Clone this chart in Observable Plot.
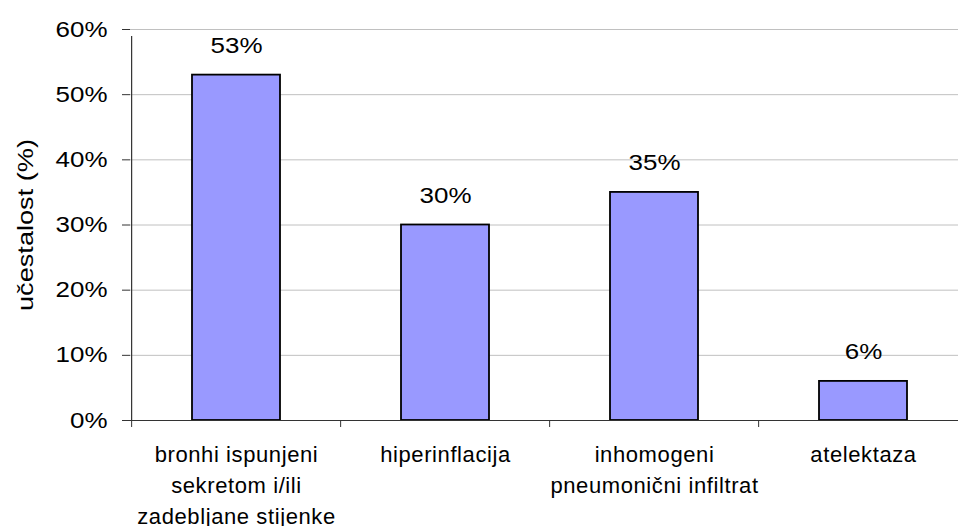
<!DOCTYPE html>
<html>
<head>
<meta charset="utf-8">
<script src="https://cdn.jsdelivr.net/npm/d3@7"></script>
<script src="https://cdn.jsdelivr.net/npm/@observablehq/plot@0.6"></script>
<style>
  html, body { margin: 0; padding: 0; background: #fff; overflow: hidden; width: 958px; height: 526px; }
  #chart { width: 970px; }
  #chart svg { display: block; max-width: none !important; }
  #chart g[aria-label="x-axis tick label"] text { letter-spacing: 0.6px; }
</style>
</head>
<body>
<div id="chart"></div>
<script>
const categories = [
  "bronhi ispunjeni sekretom i/ili zadebljane stijenke",
  "hiperinflacija",
  "inhomogeni pneumonični infiltrat",
  "atelektaza"
];
const tickLabels = [
  "bronhi ispunjeni\nsekretom i/ili\nzadebljane stijenke",
  "hiperinflacija",
  "inhomogeni\npneumonični infiltrat",
  "atelektaza"
];
const values = [53, 30, 35, 6];
const yTicks = [0, 10, 20, 30, 40, 50, 60];
const yLabel = "učestalost (%)";

const data = categories.map((c, i) => ({category: c, value: values[i], label: tickLabels[i]}));
const labelOf = new Map(data.map(d => [d.category, d.label]));

const W = 970, H = 526, mL = 130, mR = 1, mT = 29, mB = 106;
const step = (W - mL - mR) / categories.length;
const pad = 0.58;

const chart = Plot.plot({
  width: W,
  height: H,
  marginLeft: mL,
  marginRight: mR,
  marginTop: mT,
  marginBottom: mB,
  style: {fontFamily: "'Liberation Sans', Arial, sans-serif", color: "#000", background: "#fff"},
  x: {domain: categories, paddingInner: pad, paddingOuter: pad / 2, label: null},
  y: {domain: [0, 60], label: null},
  marks: [
    Plot.gridY(yTicks, {stroke: "#c0c0c0", strokeOpacity: 1, strokeWidth: 1}),
    Plot.barY(data, {x: "category", y: "value", fill: "#9999ff", stroke: "#000", strokeWidth: 1.8}),
    Plot.ruleY([0], {stroke: "#333", strokeWidth: 1.2}),
    Plot.ruleX(categories.slice(0, 1), {dx: -step / 2, y1: 0, y2: 60, stroke: "#333", strokeWidth: 1.2, insetBottom: -7}),
    Plot.axisY({ticks: yTicks, tickSize: 8, tickPadding: 15, tickFormat: d => d + "%", fontSize: 22, stroke: "#333"}),
    Plot.axisX({tickSize: 7, text: null, dx: -step / 2, stroke: "#333"}),
    Plot.axisX({tickSize: 0, tickPadding: 20, tickFormat: d => labelOf.get(d), fontSize: 22, lineHeight: 1.4}),
    Plot.text(data, {x: "category", y: "value", text: d => d.value + "%", dy: -22, lineAnchor: "bottom", fontSize: 22, fill: "#000"}),
    Plot.text([yLabel], {frameAnchor: "left", dx: -105, rotate: -90, text: d => d, fontSize: 22, textAnchor: "middle"})
  ]
});
document.getElementById("chart").appendChild(chart);

function stretch(nodes, factor, total) {
  nodes.forEach(t => {
    const L = t.getComputedTextLength();
    t.setAttribute("textLength", total != null ? total : L * factor);
    t.setAttribute("lengthAdjust", "spacingAndGlyphs");
  });
}
stretch(chart.querySelectorAll('g[aria-label="y-axis tick label"] text'), 1.18);
const textGroups = chart.querySelectorAll('g[aria-label="text"]');
if (textGroups[0]) stretch(textGroups[0].querySelectorAll("text"), 1.18);
if (textGroups[1]) stretch(textGroups[1].querySelectorAll("text"), 1, 172);
</script>
</body>
</html>
